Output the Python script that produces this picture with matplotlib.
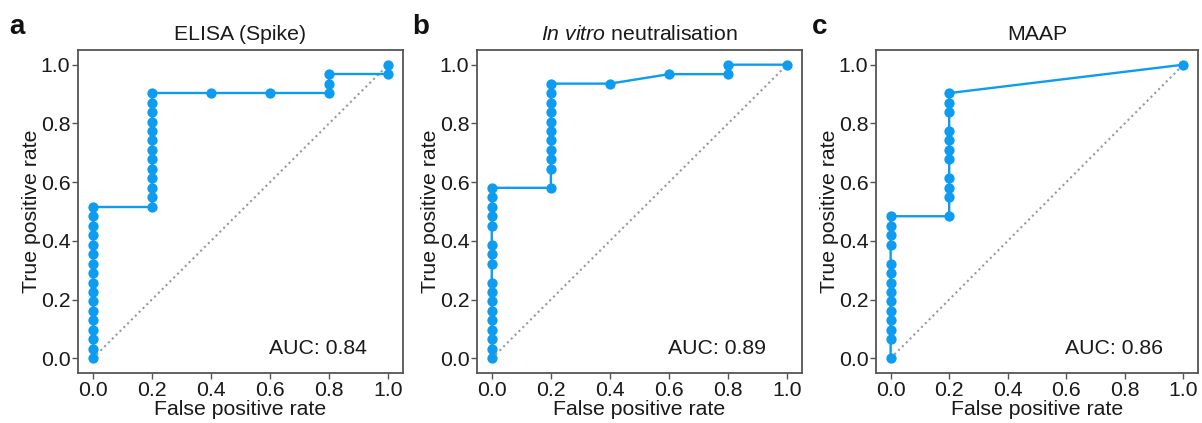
import matplotlib
matplotlib.use("Agg")
import matplotlib.pyplot as plt

plt.rcParams['font.family'] = ['Liberation Sans', 'DejaVu Sans']
plt.rcParams['mathtext.fontset'] = 'custom'
plt.rcParams['mathtext.rm'] = 'Liberation Sans'
plt.rcParams['mathtext.it'] = 'Liberation Sans:italic'

N = 31
# ELISA (Spike): (FPR, TPR counts out of 31)
fpr_a = [0.0]*17 + [0.2]*13 + [0.4, 0.6, 0.8, 0.8, 0.8, 1.0, 1.0]
tpr_a_counts = list(range(0, 17)) + list(range(16, 29)) + [28, 28, 28, 29, 30, 30, 31]

# In vitro neutralisation
fpr_b = [0.0]*17 + [0.2]*11 + [0.4, 0.6, 0.8, 0.8, 1.0]
tpr_b_counts = ([0, 1, 2, 3, 4, 5, 6, 7, 8, 10, 11, 12, 14, 15, 16, 17, 18]
                + [18, 20, 21, 22, 23, 24, 25, 26, 27, 28, 29]
                + [29, 30, 30, 31, 31])

# MAAP
fpr_c = [0.0]*14 + [0.2]*11 + [1.0]
tpr_c_counts = ([0, 2, 3, 4, 5, 6, 7, 8, 9, 10, 12, 13, 14, 15]
                + [15, 17, 18, 19, 21, 22, 23, 24, 26, 27, 28]
                + [31])

titles = ["ELISA (Spike)", r"$\mathit{In\ vitro}$ neutralisation", "MAAP"]
letters = ["a", "b", "c"]
aucs = ["AUC: 0.84", "AUC: 0.89", "AUC: 0.86"]
ticks = [0.0, 0.2, 0.4, 0.6, 0.8, 1.0]

W, H = 1202, 423
fig = plt.figure(figsize=(W/100, H/100), dpi=100)
lefts = [78, 477, 876]
widths = [325, 325, 322]
top, bottom = 50, 373

line_color = '#0E9CF0'
spine_color = '#555555'
fs = 15.3

series = [(fpr_a, tpr_a_counts), (fpr_b, tpr_b_counts), (fpr_c, tpr_c_counts)]
letter_x = [9, 412, 812]

for i in range(3):
    ax = fig.add_axes([lefts[i]/W, (H-bottom)/H, widths[i]/W, (bottom-top)/H])
    fx, cnt = series[i]
    ty = [c/N for c in cnt]
    ax.plot([0, 1], [0, 1], linestyle=(0, (1, 1.6)), color='#999999', lw=1.5, zorder=1)
    ax.plot(fx, ty, color=line_color, lw=1.7, marker='o', markersize=7.4,
            markeredgewidth=0, zorder=3, clip_on=False)
    ax.set_xlim(-0.05, 1.05)
    ax.set_ylim(-0.05, 1.05)
    ax.set_xticks(ticks)
    ax.set_yticks(ticks)
    ax.set_xticklabels([f"{t:.1f}" for t in ticks])
    ax.set_yticklabels([f"{t:.1f}" for t in ticks])
    for s in ax.spines.values():
        s.set_color(spine_color)
        s.set_linewidth(1.3)
    ax.tick_params(direction='out', length=4, width=1.0, color=spine_color,
                   labelsize=fs, labelcolor='#1a1a1a', pad=1.5)
    ax.set_xlabel("False positive rate", fontsize=fs, labelpad=0, color='#1a1a1a')
    ax.set_ylabel("True positive rate", fontsize=fs, labelpad=0, color='#1a1a1a')
    ax.set_title(titles[i], fontsize=fs, pad=7, color='#1a1a1a')
    ax.text(0.89, 0.045, aucs[i], transform=ax.transAxes, ha='right', va='bottom',
            fontsize=fs, color='#1a1a1a')
    fig.text(letter_x[i]/W, 1 - 27/H, letters[i], fontsize=20, fontweight='bold',
             ha='left', va='center', color='#111111')

fig.savefig("out.png", dpi=100)
